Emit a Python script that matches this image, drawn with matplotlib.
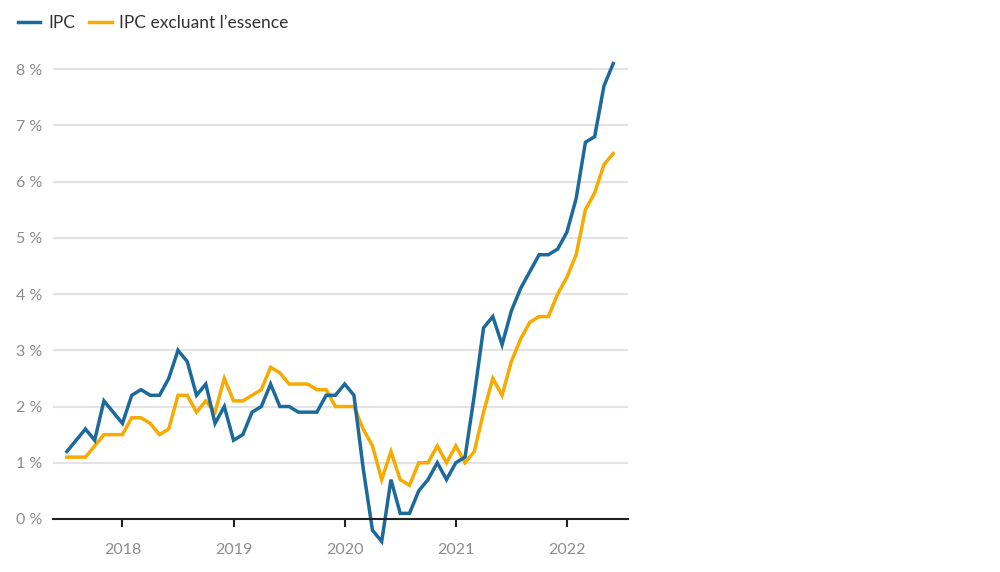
import matplotlib
matplotlib.use('Agg')
import matplotlib.pyplot as plt
import numpy as np

plt.rcParams['font.family'] = ['Lato', 'DejaVu Sans']

# monthly, July 2017 to June 2022
start_year, start_month = 2017, 7
ipc = [1.2, 1.4, 1.6, 1.4, 2.1, 1.9,
       1.7, 2.2, 2.3, 2.2, 2.2, 2.5, 3.0, 2.8, 2.2, 2.4, 1.7, 2.0,
       1.4, 1.5, 1.9, 2.0, 2.4, 2.0, 2.0, 1.9, 1.9, 1.9, 2.2, 2.2,
       2.4, 2.2, 0.9, -0.2, -0.4, 0.7, 0.1, 0.1, 0.5, 0.7, 1.0, 0.7,
       1.0, 1.1, 2.2, 3.4, 3.6, 3.1, 3.7, 4.1, 4.4, 4.7, 4.7, 4.8,
       5.1, 5.7, 6.7, 6.8, 7.7, 8.1]
ipc_sans_essence = [1.1, 1.1, 1.1, 1.3, 1.5, 1.5,
                    1.5, 1.8, 1.8, 1.7, 1.5, 1.6, 2.2, 2.2, 1.9, 2.1, 1.9, 2.5,
                    2.1, 2.1, 2.2, 2.3, 2.7, 2.6, 2.4, 2.4, 2.4, 2.3, 2.3, 2.0,
                    2.0, 2.0, 1.6, 1.3, 0.7, 1.2, 0.7, 0.6, 1.0, 1.0, 1.3, 1.0,
                    1.3, 1.0, 1.2, 1.9, 2.5, 2.2, 2.8, 3.2, 3.5, 3.6, 3.6, 4.0,
                    4.3, 4.7, 5.5, 5.8, 6.3, 6.5]
years = [2018, 2019, 2020, 2021, 2022]
y_ticks = [0, 1, 2, 3, 4, 5, 6, 7, 8]

blue = '#1b6a9b'
orange = '#f7aa00'
gray = '#8c8c8c'

x = np.arange(len(ipc))
year_pos = [(y - start_year) * 12 - (start_month - 1) for y in years]

fig = plt.figure(figsize=(10, 5.72), dpi=100)
ax = fig.add_axes([0.053, 0.0927, 0.575, 0.806])

for yv in y_ticks[1:]:
    ax.axhline(yv, color='#e3e3e3', lw=1.5, zorder=1)

ax.plot(x, ipc, color=blue, lw=2.5, clip_on=False, zorder=3, label='IPC',
        solid_joinstyle='miter')
ax.plot(x, ipc_sans_essence, color=orange, lw=2.5, clip_on=False, zorder=2,
        label='IPC excluant l\u2019essence', solid_joinstyle='miter')

ax.set_xlim(-1.5, 60.6)
ax.set_ylim(0, 8.2)

for s in ['top', 'right', 'left']:
    ax.spines[s].set_visible(False)
ax.spines['bottom'].set_color('#222222')
ax.spines['bottom'].set_linewidth(1.5)
ax.spines['bottom'].set_zorder(4)

ax.set_xticks(year_pos)
ax.set_xticklabels([str(y) for y in years])
ax.set_yticks(y_ticks)
ax.set_yticklabels([f'{v} %' for v in y_ticks])
ax.tick_params(axis='x', length=6, width=1.5, color='#222222', pad=11,
               labelsize=11.5, labelcolor=gray)
ax.tick_params(axis='y', length=0, pad=8, labelsize=11.5, labelcolor=gray)

fig.legend(loc='upper left', bbox_to_anchor=(0.009, 0.989), ncol=2, frameon=False,
           borderpad=0, fontsize=12.5, handlelength=1.3, handletextpad=0.45,
           columnspacing=0.8, labelcolor='#333333')

fig.savefig('out.png', dpi=100)
